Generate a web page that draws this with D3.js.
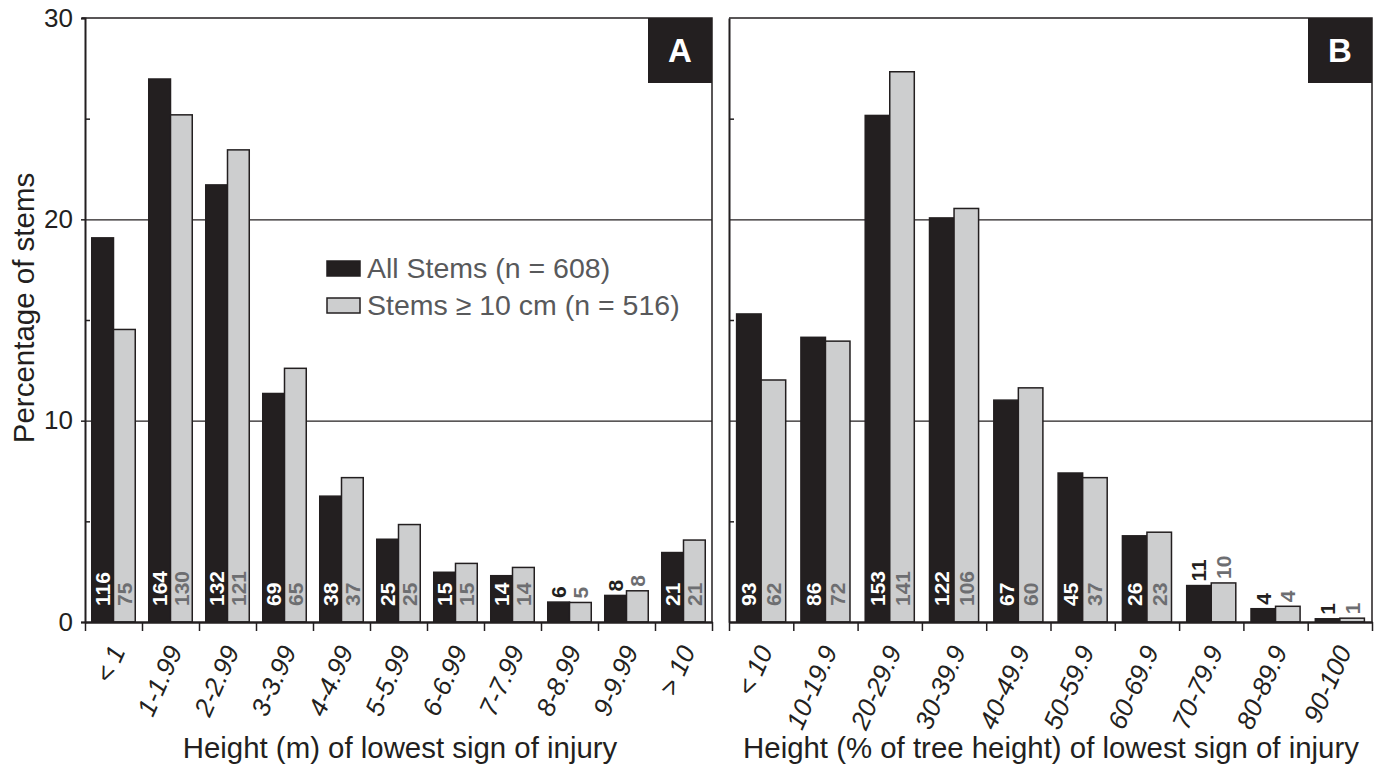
<!DOCTYPE html>
<html lang="en">
<head>
<meta charset="UTF-8">
<title>Lowest sign of injury</title>
<script src="https://d3js.org/d3.v7.min.js"></script>
<style>
    body { margin: 0; background: #fff; }
    svg { display: block; font-family: "Liberation Sans", Arial, sans-serif; }
</style>
</head>
<body>
<svg id="chart" width="1377" height="766"></svg>
<script>
// categories
var catsA = ['< 1', '1-1.99', '2-2.99', '3-3.99', '4-4.99', '5-5.99', '6-6.99', '7-7.99', '8-8.99', '9-9.99', '> 10'];
var catsB = ['< 10', '10-19.9', '20-29.9', '30-39.9', '40-49.9', '50-59.9', '60-69.9', '70-79.9', '80-89.9', '90-100'];

// percentage of stems
var allA = [19.08, 26.97, 21.71, 11.35, 6.25, 4.11, 2.47, 2.30, 0.99, 1.32, 3.45];
var tenA = [14.53, 25.19, 23.45, 12.60, 7.17, 4.84, 2.91, 2.71, 0.97, 1.55, 4.07];
var allB = [15.30, 14.14, 25.16, 20.07, 11.02, 7.40, 4.28, 1.81, 0.66, 0.16];
var tenB = [12.02, 13.95, 27.33, 20.54, 11.63, 7.17, 4.46, 1.94, 0.78, 0.19];

// stem counts printed on bars
var nAllA = [116, 164, 132, 69, 38, 25, 15, 14, 6, 8, 21];
var nTenA = [75, 130, 121, 65, 37, 25, 15, 14, 5, 8, 21];
var nAllB = [93, 86, 153, 122, 67, 45, 26, 11, 4, 1];
var nTenB = [62, 72, 141, 106, 60, 37, 23, 10, 4, 1];

var seriesNames = ['All Stems (n = 608)', 'Stems \u2265 10 cm (n = 516)'];
var yTicks = [0, 10, 20, 30];
var yMinor = [5, 15, 25];
var yGrid = [10, 20];

var dark = '#231f20', grey = '#cdcecf', greyText = '#6d6e71';

var svg = d3.select('#chart');
var y = d3.scaleLinear().domain([0, 30]).range([622, 18]);

function panel(opt) {
    var g = svg.append('g');
    var n = opt.cats.length;
    var x = d3.scaleBand().domain(opt.cats).range([opt.x0, opt.x1]);
    var xb = d3.scaleLinear().domain([0, n]).range([opt.x0, opt.x1]);
    var inner = d3.scaleBand().domain([0, 1]).range([0, x.bandwidth()]).paddingOuter(0.31);

    var rows = opt.cats.map(function(c, i) {
        return [
            {cat: c, s: 0, v: opt.all[i], n: opt.nAll[i]},
            {cat: c, s: 1, v: opt.ten[i], n: opt.nTen[i]}
        ];
    });
    var flat = [].concat.apply([], rows);

    // gridlines
    g.append('g')
        .attr('transform', 'translate(' + opt.x0 + ',0)')
        .call(d3.axisRight(y).tickValues(yGrid).tickSize(opt.x1 - opt.x0).tickFormat(''))
        .call(function(s) {
            s.select('.domain').remove();
            s.selectAll('line').attr('stroke', dark).attr('stroke-width', 1.2);
        });

    // bars
    g.selectAll('rect.bar')
        .data(flat)
        .enter()
        .append('rect')
        .attr('class', 'bar')
        .attr('x', function(d) { return x(d.cat) + inner(d.s); })
        .attr('y', function(d) { return y(d.v); })
        .attr('width', inner.bandwidth())
        .attr('height', function(d) { return y(0) - y(d.v); })
        .attr('fill', function(d) { return d.s ? grey : dark; })
        .attr('stroke', dark)
        .attr('stroke-width', 1.5);

    // counts (above the bar when it is too short)
    g.selectAll('text.cnt')
        .data(flat)
        .enter()
        .append('text')
        .attr('class', 'cnt')
        .attr('transform', function(d) {
            var cx = x(d.cat) + inner(d.s) + inner.bandwidth() / 2 + 7.5;
            var cy = d.v < 2 ? y(d.v) - 4 : 606;
            return 'translate(' + cx + ',' + cy + ') rotate(-90)';
        })
        .attr('font-size', 21)
        .attr('font-weight', 'bold')
        .attr('fill', function(d) {
            if (d.s) return greyText;
            return d.v < 2 ? dark : '#fff';
        })
        .text(function(d) { return d.n; });

    // frame: top and right
    g.append('path')
        .attr('d', d3.line()([[opt.x0 - (opt.labels ? 3 : 0), y(30)], [opt.x1, y(30)], [opt.x1, y(0)]]))
        .attr('fill', 'none')
        .attr('stroke', dark)
        .attr('stroke-width', 1.5);

    // y axis
    var ya = g.append('g')
        .attr('transform', 'translate(' + opt.x0 + ',0)')
        .call(d3.axisLeft(y).tickValues(yTicks).tickSize(opt.labels ? 4 : 0).tickPadding(8)
            .tickFormat(opt.labels ? d3.format('d') : ''));
    ya.select('.domain').attr('stroke', dark).attr('stroke-width', 2);
    ya.selectAll('line').attr('stroke', dark).attr('stroke-width', 1.5);
    ya.selectAll('text').attr('font-size', 26).attr('fill', dark)
        .attr('font-family', '"Liberation Sans", Arial, sans-serif');

    g.append('g')
        .attr('transform', 'translate(' + opt.x0 + ',0)')
        .call(d3.axisRight(y).tickValues(yMinor).tickSize(5).tickFormat(''))
        .call(function(s) {
            s.select('.domain').remove();
            s.selectAll('line').attr('stroke', dark).attr('stroke-width', 1.5);
        });

    // x axis: ticks at category boundaries
    var xa = g.append('g')
        .attr('transform', 'translate(0,' + y(0) + ')')
        .call(d3.axisBottom(xb).tickValues(d3.range(n + 1)).tickSize(9).tickSizeOuter(0).tickFormat(''));
    xa.select('.domain').attr('stroke', dark).attr('stroke-width', 2.5);
    xa.selectAll('line').attr('stroke', dark).attr('stroke-width', 1.5);

    // x labels
    var xl = g.append('g')
        .attr('transform', 'translate(0,' + y(0) + ')')
        .call(d3.axisBottom(x).tickSize(0).tickSizeOuter(0));
    xl.select('.domain').remove();
    xl.selectAll('text')
        .attr('font-size', 26)
        .attr('font-style', 'italic')
        .attr('fill', dark)
        .attr('font-family', '"Liberation Sans", Arial, sans-serif')
        .attr('text-anchor', 'end')
        .attr('y', 0)
        .attr('dy', '0.35em')
        .attr('transform', 'translate(4,25) rotate(-66)');

    // x title
    g.append('text')
        .attr('x', opt.titleX)
        .attr('y', 758)
        .attr('text-anchor', 'middle')
        .attr('font-size', 29.4)
        .attr('fill', dark)
        .text(opt.title);

    // panel letter
    g.append('rect')
        .attr('x', opt.x1 - 64)
        .attr('y', y(30))
        .attr('width', 64)
        .attr('height', 65)
        .attr('fill', dark);
    g.append('text')
        .attr('x', opt.x1 - 32)
        .attr('y', y(30) + 44)
        .attr('text-anchor', 'middle')
        .attr('font-size', 33)
        .attr('font-weight', 'bold')
        .attr('fill', '#fff')
        .text(opt.letter);
}

panel({cats: catsA, all: allA, ten: tenA, nAll: nAllA, nTen: nTenA,
    x0: 85, x1: 712, labels: true, letter: 'A',
    title: 'Height (m) of lowest sign of injury', titleX: 400});
panel({cats: catsB, all: allB, ten: tenB, nAll: nAllB, nTen: nTenB,
    x0: 729, x1: 1372, labels: false, letter: 'B',
    title: 'Height (% of tree height) of lowest sign of injury', titleX: 1051});

// y title
svg.append('text')
    .attr('transform', 'translate(34,308) rotate(-90)')
    .attr('text-anchor', 'middle')
    .attr('font-size', 29.5)
    .attr('fill', dark)
    .text('Percentage of stems');

// legend
var leg = svg.append('g').attr('transform', 'translate(327,261)');
seriesNames.forEach(function(name, i) {
    leg.append('rect')
        .attr('x', 0)
        .attr('y', i * 37)
        .attr('width', 33)
        .attr('height', 15)
        .attr('fill', i ? grey : dark)
        .attr('stroke', dark)
        .attr('stroke-width', 1.5);
    leg.append('text')
        .attr('x', 40)
        .attr('y', i * 37 + 17)
        .attr('font-size', 28.5)
        .attr('fill', '#58595b')
        .text(name);
});
</script>
</body>
</html>
